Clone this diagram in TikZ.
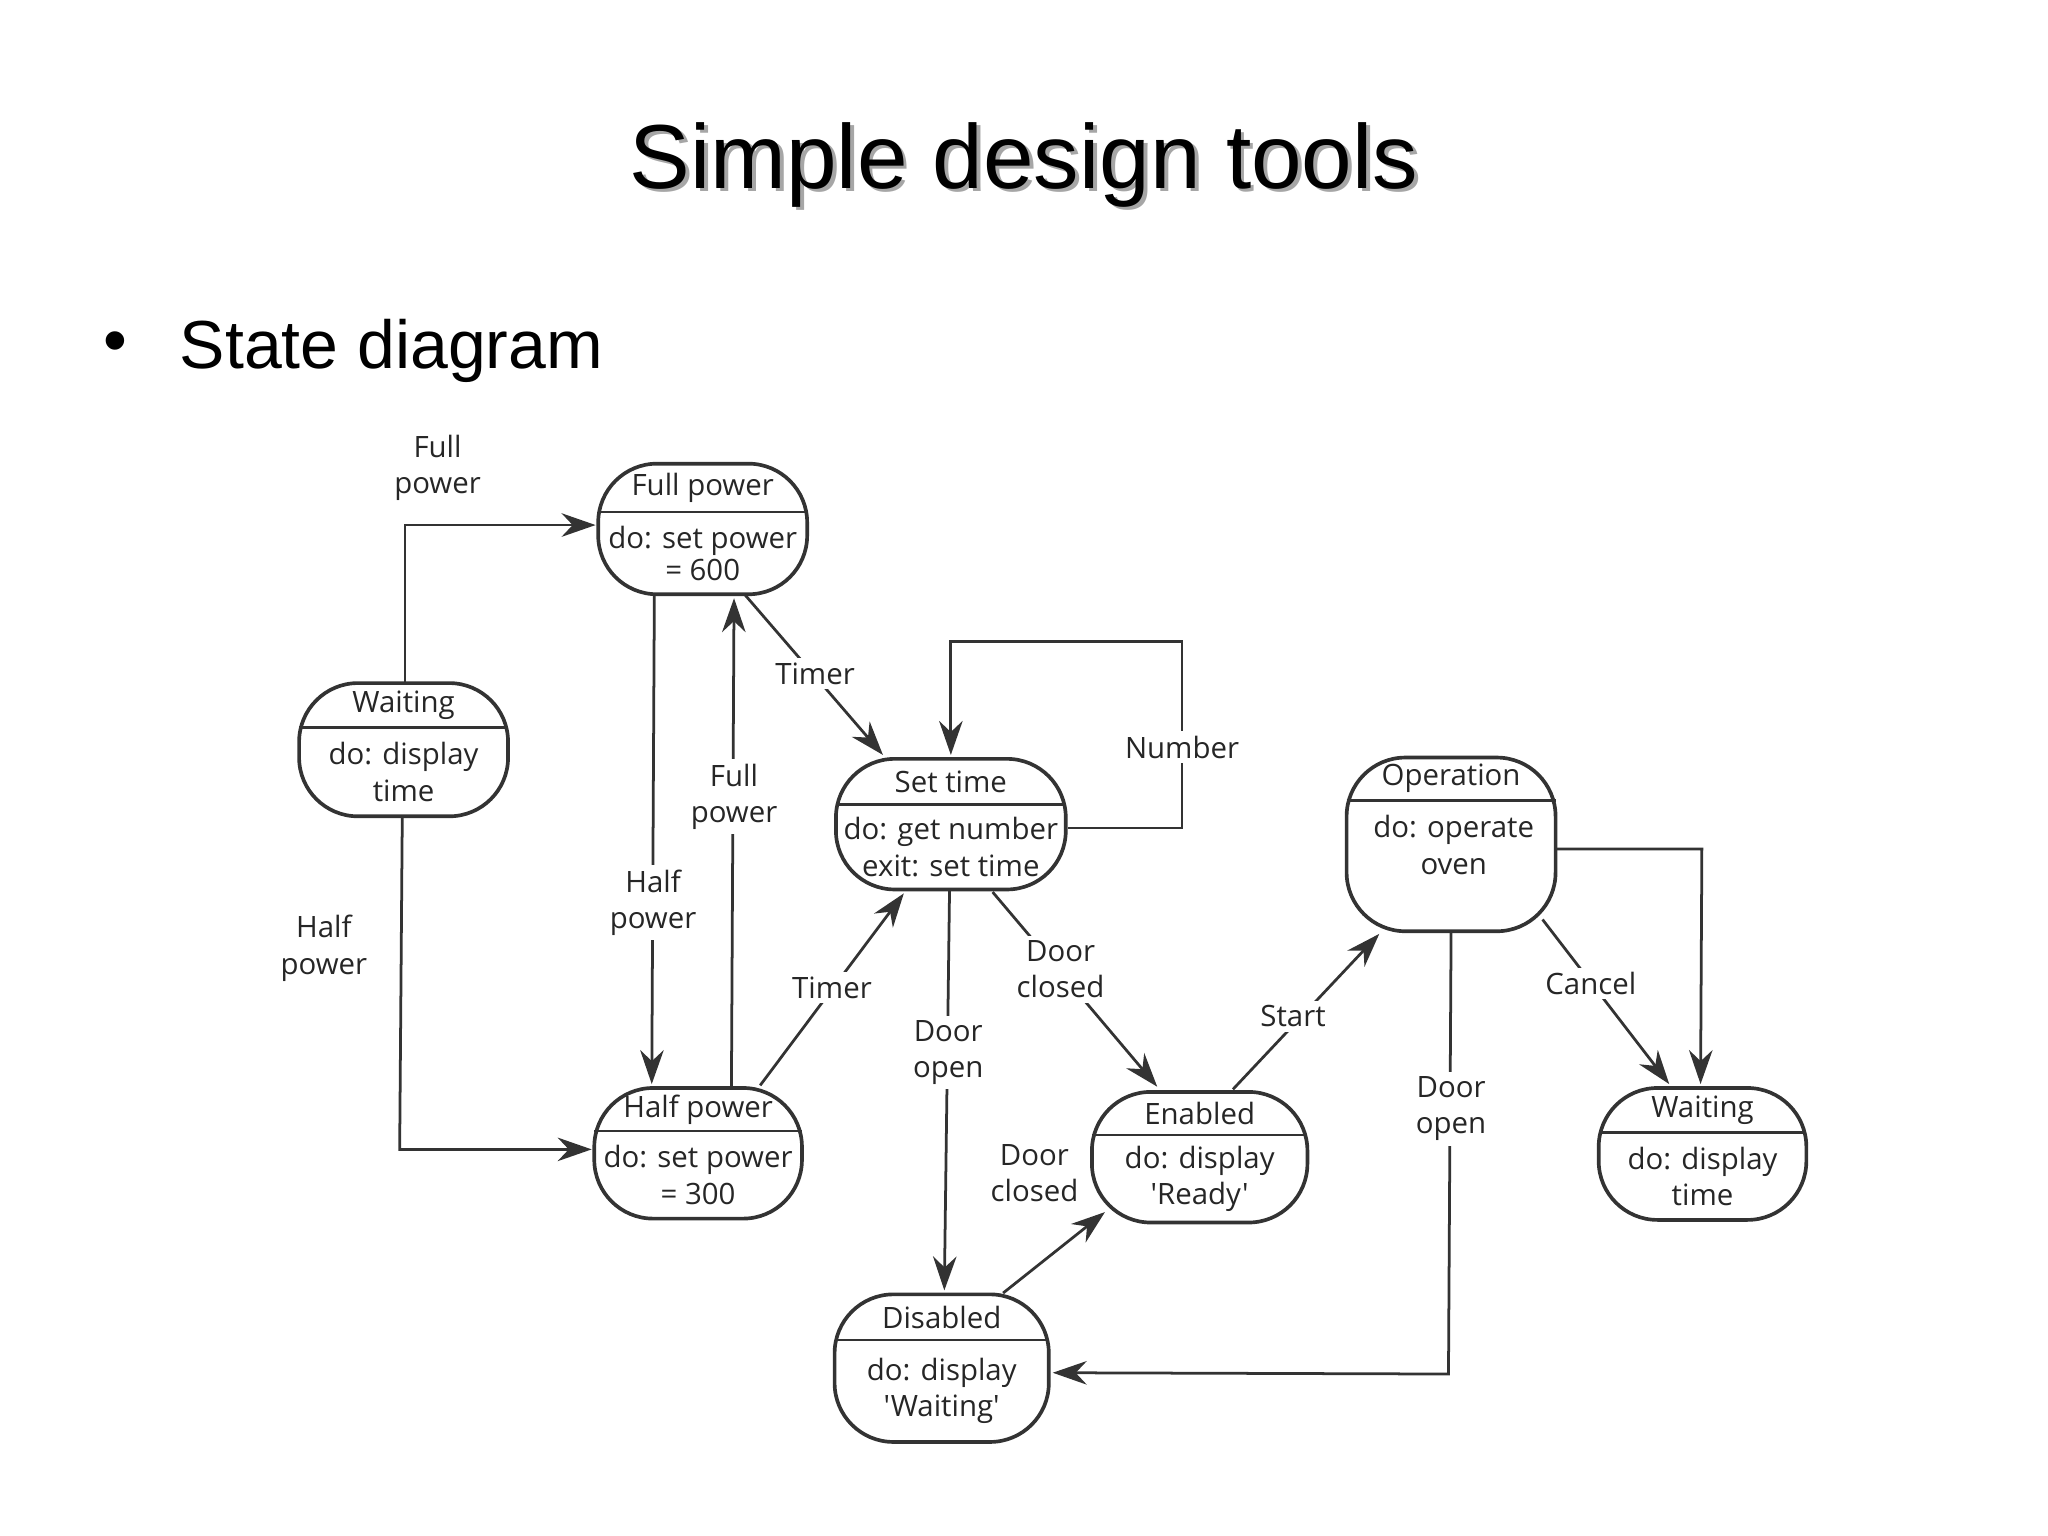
\documentclass[tikz,border=0pt]{standalone}
\usepackage{fontspec}
\setmainfont{Liberation Sans}
\newfontfamily\statefont{Open Sans}
\usetikzlibrary{arrows.meta}
\begin{document}
\begin{tikzpicture}[x=0.01cm,y=-0.01cm,
  st/.style={draw=black!80,line width=0.8pt,rounded corners=4.5mm,inner sep=0pt},
  tx/.style={font=\statefont\fontsize{6.4}{7.9}\selectfont,align=center,text=black!85},
  lb/.style={tx,fill=white,inner sep=1pt},
  ar/.style={draw=black!80,line width=0.6pt,-{Stealth[length=2.6mm,width=1.8mm]}},
  ln/.style={draw=black!80,line width=0.6pt}]
\useasboundingbox (0,0) rectangle (1568,1176);
% title
\node[font=\fontsize{19.8}{24}\selectfont,text=black!35] at (787,129) {Simple design tools};
\node[font=\fontsize{19.8}{24}\selectfont] (title) at (784,126) {Simple design tools};
\node[font=\fontsize{14.8}{18}\selectfont] (bull) at (88,266) {\textbullet};
\node[font=\fontsize{14.8}{18}\selectfont,anchor=west,inner sep=0pt] (bul) at (137,269) {State diagram};
% state macro
\newcommand\mystate[8]{%
  \path[st] (#2,#3) rectangle (#4,#5);
  \coordinate (#1) at ({(#2+#4)/2},{(#3+#5)/2});
  \draw[black!80,line width=0.6pt] (#2,#6) -- (#4,#6);
  \node[tx] (#1t) at ({(#2+#4)/2},{(#3+#6)/2}) {#7};
  \node[tx] (#1b) at ({(#2+#4)/2},{(#6+#5)/2}) {#8};}
\mystate{fp}{458}{355}{618}{455}{392}{Full power}{do: set power\\[-1pt] = 600}
\mystate{wl}{229}{523}{389}{625}{557}{Waiting}{do: display\\ time}
\mystate{set}{640}{581}{816}{681}{616}{Set time}{do: get number\\ exit: set time}
\mystate{hp}{455}{833}{614}{933}{866}{Half power}{do: set power\\ = 300}
\mystate{en}{836}{836}{1001}{936}{869}{Enabled}{do: display\\ 'Ready'}
\mystate{wr}{1224}{833}{1383}{934}{867}{Waiting}{do: display\\ time}
\mystate{dis}{639}{991}{803}{1104}{1026}{Disabled}{do: display\\ 'Waiting'}
% operation
\path[st] (1031,580) rectangle (1191,713);
\coordinate (op) at (1111,646);
\draw[black!80,line width=0.6pt] (1031,613) -- (1191,613);
\node[tx] (opt) at (1111,596) {Operation};
\node[tx] (opb) at (1113,647) {do: operate\\ oven};
% connectors
\draw[ar] (310,523) -- (310,402) -- (456,402);
\node[tx] (l1) at (335,358) {Full\\ power};
\draw[ar] (308,625) -- (306,880) -- (453,880);
\node[tx] (l2) at (248,726) {Half\\ power};
\draw[ar] (501,455) -- (499,830);
\node[lb] (l3) at (500,691) {Half\\ power};
\draw[ar] (560,833) -- (562,458);
\node[lb] (l4) at (562,610) {Full\\ power};
\draw[ar] (570,455) -- (676,578);
\node[lb] (l5) at (624,516) {Timer};
\draw[ar] (582,831) -- (692,684);
\node[lb] (l6) at (637,756) {Timer};
\draw[ar] (818,634) -- (905,634) -- (905,491) -- (728,491) -- (728,578);
\node[lb] (l7) at (905,572) {Number};
\draw[ar] (727,681) -- (723,988);
\node[lb] (l8) at (726,806) {Door\\ open};
\draw[ar] (760,683) -- (886,832);
\node[lb] (l9) at (812,742) {Door\\ closed};
\draw[ar] (768,990) -- (846,928);
\node[tx] (l10) at (792,898) {Door\\ closed};
\draw[ar] (944,834) -- (1056,715);
\node[lb] (l11) at (990,778) {Start};
\draw[ar] (1111,713) -- (1109,1052) -- (806,1051);
\node[lb] (l12) at (1111,849) {Door\\ open};
\draw[ar] (1181,704) -- (1278,830);
\node[lb] (l13) at (1218,753) {Cancel};
\draw[ar] (1191,650) -- (1303,650) -- (1302,830);
\end{tikzpicture}
\end{document}
